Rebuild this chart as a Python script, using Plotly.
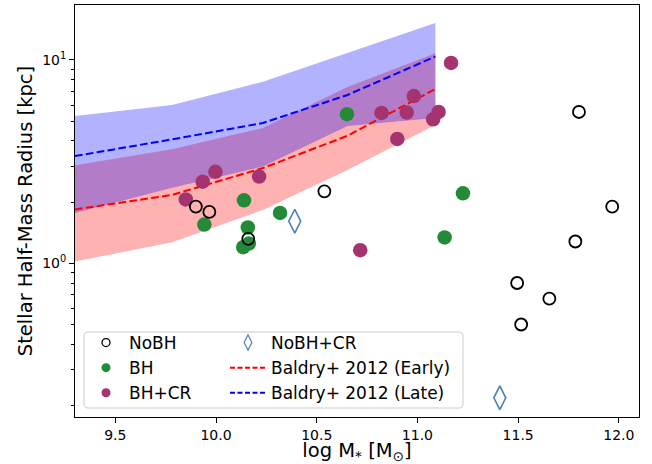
import plotly.graph_objects as go

# ---------------- data ----------------
nobh_x = [9.90, 9.967, 10.160, 10.538, 11.802, 11.967, 11.784, 11.495, 11.655, 11.515]
nobh_y = [1.90, 1.79, 1.32, 2.26, 5.55, 1.90, 1.28, 0.80, 0.67, 0.50]

bh_x = [9.942, 10.139, 10.158, 10.135, 10.163, 10.318, 10.650, 11.226, 11.135]
bh_y = [1.55, 2.04, 1.50, 1.20, 1.25, 1.77, 5.41, 2.21, 1.34]

bhcr_x = [9.850, 9.934, 9.997, 10.214, 11.167, 10.982, 10.822, 10.947, 11.105, 11.078, 10.900, 10.716]
bhcr_y = [2.06, 2.52, 2.82, 2.67, 9.67, 6.65, 5.49, 5.51, 5.55, 5.11, 4.09, 1.16]

nobhcr_x = [10.391, 11.409]
nobhcr_y = [1.61, 0.218]

baldry_x = [9.30, 9.782, 10.233, 10.653, 11.089]
early_med = [1.84, 2.17, 2.94, 4.24, 7.20]
early_lo = [1.02, 1.27, 1.83, 2.88, 4.79]
early_hi = [3.04, 3.64, 4.63, 7.36, 10.8]
late_med = [3.37, 4.07, 4.90, 6.73, 10.4]
late_lo = [1.77, 2.35, 2.99, 4.74, 5.18]
late_hi = [5.30, 6.01, 7.82, 10.8, 15.2]

x_ticks = [9.5, 10.0, 10.5, 11.0, 11.5, 12.0]
y_ticks = [1, 10]
y_ticktext = ["10<sup>0</sup>", "10<sup>1</sup>"]
y_minor = [0.2, 0.3, 0.4, 0.5, 0.6, 0.7, 0.8, 0.9, 2, 3, 4, 5, 6, 7, 8, 9]

# ---------------- style ----------------
FONT = "DejaVu Sans"
GREEN = "#238b37"
PURPLE = "#a5336f"
STEEL = "#4a7fbc"
DASH = "7.7px,3.3px"

W, H = 652, 464
ML, MR, MT, MB = 75, 13, 5, 47
PW, PH = W - ML - MR, H - MT - MB


def px_to_paper(px, py):
    return (px - ML) / PW, (H - MB - py) / PH


fig = go.Figure()

# bands (red first, blue over it)
fig.add_trace(go.Scatter(x=baldry_x + baldry_x[::-1], y=early_hi + early_lo[::-1],
                         fill="toself", fillcolor="rgba(255,0,0,0.3)", line=dict(width=0),
                         mode="lines", showlegend=False, hoverinfo="skip"))
fig.add_trace(go.Scatter(x=baldry_x + baldry_x[::-1], y=late_hi + late_lo[::-1],
                         fill="toself", fillcolor="rgba(0,0,255,0.3)", line=dict(width=0),
                         mode="lines", showlegend=False, hoverinfo="skip"))
fig.add_trace(go.Scatter(x=baldry_x, y=early_med, mode="lines",
                         line=dict(color="red", width=2, dash=DASH), showlegend=False))
fig.add_trace(go.Scatter(x=baldry_x, y=late_med, mode="lines",
                         line=dict(color="blue", width=2, dash=DASH), showlegend=False))

# points
fig.add_trace(go.Scatter(x=bh_x, y=bh_y, mode="markers",
                         marker=dict(symbol="circle", size=14.5, color=GREEN, line=dict(width=0)),
                         showlegend=False))
fig.add_trace(go.Scatter(x=bhcr_x, y=bhcr_y, mode="markers",
                         marker=dict(symbol="circle", size=14.5, color=PURPLE, line=dict(width=0)),
                         showlegend=False))
fig.add_trace(go.Scatter(x=nobh_x, y=nobh_y, mode="markers",
                         marker=dict(symbol="circle-open", size=12, color="black", line=dict(width=1.8)),
                         showlegend=False))
fig.add_trace(go.Scatter(x=nobhcr_x, y=nobhcr_y, mode="markers",
                         marker=dict(symbol="diamond-tall-open", size=17, color=STEEL, line=dict(width=1.6)),
                         showlegend=False))

# legend entries (column 1)
fig.add_trace(go.Scatter(x=[None], y=[None], mode="markers", name="NoBH", legend="legend",
                         marker=dict(symbol="circle-open", size=8, color="black", line=dict(width=1.3))))
fig.add_trace(go.Scatter(x=[None], y=[None], mode="markers", name="BH", legend="legend",
                         marker=dict(symbol="circle", size=9, color=GREEN)))
fig.add_trace(go.Scatter(x=[None], y=[None], mode="markers", name="BH+CR", legend="legend",
                         marker=dict(symbol="circle", size=9, color=PURPLE)))
# legend entries (column 2)
fig.add_trace(go.Scatter(x=[None], y=[None], mode="markers", name="NoBH+CR", legend="legend2",
                         marker=dict(symbol="diamond-tall-open", size=11, color=STEEL, line=dict(width=1.2))))
fig.add_trace(go.Scatter(x=[None], y=[None], mode="lines", name="Baldry+ 2012 (Early)", legend="legend2",
                         line=dict(color="red", width=2, dash="5px,2.5px")))
fig.add_trace(go.Scatter(x=[None], y=[None], mode="lines", name="Baldry+ 2012 (Late)", legend="legend2",
                         line=dict(color="blue", width=2, dash="5px,2.5px")))

# legend frame (rounded)
bx0, by0, bx1, by1, r = 84, 332, 463, 408, 4


def rounded_path(x0, y0, x1, y1, rad):
    def P(x, y):
        u, v = px_to_paper(x, y)
        return f"{u:.5f},{v:.5f}"
    path = (f"M {P(x0 + rad, y0)} L {P(x1 - rad, y0)} Q {P(x1, y0)} {P(x1, y0 + rad)} "
            f"L {P(x1, y1 - rad)} Q {P(x1, y1)} {P(x1 - rad, y1)} "
            f"L {P(x0 + rad, y1)} Q {P(x0, y1)} {P(x0, y1 - rad)} "
            f"L {P(x0, y0 + rad)} Q {P(x0, y0)} {P(x0 + rad, y0)} Z")
    return path


fig.add_shape(type="path", xref="paper", yref="paper", path=rounded_path(bx0, by0, bx1, by1, r),
              line=dict(color="#cccccc", width=1), fillcolor="rgba(255,255,255,0.8)", layer="above")

lx1, ly1 = px_to_paper(83, 325)
lx2, ly2 = px_to_paper(225, 325)

fig.update_layout(
    width=W, height=H,
    margin=dict(l=ML, r=MR, t=MT, b=MB, autoexpand=False),
    paper_bgcolor="white", plot_bgcolor="white",
    font=dict(family=FONT, color="black", size=14),
    legend=dict(x=lx1, y=ly1, xanchor="left", yanchor="top", bgcolor="rgba(0,0,0,0)",
                borderwidth=0, font=dict(size=17, family=FONT), tracegroupgap=0, itemwidth=36),
    legend2=dict(x=lx2, y=ly2, xanchor="left", yanchor="top", bgcolor="rgba(0,0,0,0)",
                 borderwidth=0, font=dict(size=17, family=FONT), tracegroupgap=0, itemwidth=36),
    xaxis=dict(range=[9.30, 12.10], tickvals=x_ticks, tickformat=".1f", automargin=False,
               showgrid=False, zeroline=False, showline=True, mirror=True,
               linecolor="black", linewidth=1, ticks="outside", ticklen=5, tickwidth=1,
               tickcolor="black", tickfont=dict(size=14),
               title=dict(text="log M<sub>*</sub> [M<sub>⊙</sub>]", font=dict(size=19.5), standoff=6)),
    yaxis=dict(type="log", range=[-0.756, 1.2705], tickvals=y_ticks, ticktext=y_ticktext, automargin=False,
               showgrid=False, zeroline=False, showline=True, mirror=True,
               linecolor="black", linewidth=1, ticks="outside", ticklen=5, tickwidth=1,
               tickcolor="black", tickfont=dict(size=14),
               minor=dict(tickvals=y_minor, ticks="outside", ticklen=3, tickwidth=1, tickcolor="black",
                          showgrid=False),
               title=dict(text="Stellar Half-Mass Radius [kpc]", font=dict(size=19.5), standoff=4)),
)

fig.write_html("out.html", post_script="document.body.style.margin='0px';",
               config={"displayModeBar": False})
